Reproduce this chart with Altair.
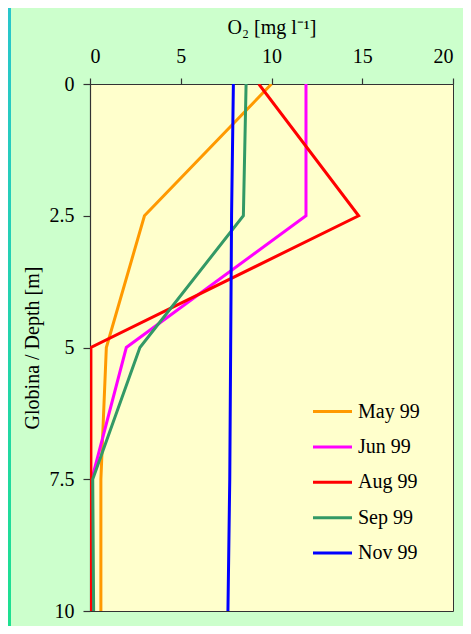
import altair as alt
import pandas as pd

depths = [0, 2.5, 5, 7.5, 10]
months = ["May 99", "Jun 99", "Aug 99", "Sep 99", "Nov 99"]
may = [10.0, 3.0, 0.9, 0.6, 0.6]
jun = [11.9, 11.9, 2.0, 0.1, 0.1]
aug = [9.3, 14.8, 0.05, 0.05, 0.05]
sep = [8.6, 8.45, 2.75, 0.15, 0.2]
nov = [7.9, 7.8, 7.75, 7.7, 7.6]
colors = ["#FF9900", "#FF00FF", "#FF0000", "#339966", "#0000FF"]
x_ticks = [0, 5, 10, 15, 20]
y_ticks = [0, 2.5, 5, 7.5, 10]

rows = []
for si, (m, vals) in enumerate(zip(months, [may, jun, aug, sep, nov])):
    for d, v in zip(depths, vals):
        rows.append({"month": m, "depth": d, "o2": v, "series": si})
df = pd.DataFrame(rows)

FONT = "Liberation Serif"

lines = alt.Chart(df).mark_line(strokeWidth=3, clip=True).encode(
    x=alt.X("o2:Q",
            scale=alt.Scale(domain=[0, 20], nice=False, zero=False),
            axis=alt.Axis(orient="top", values=x_ticks, title="O₂ [mg l⁻¹]",
                          grid=False, tickSize=6, labelPadding=12,
                          titlePadding=9)),
    y=alt.Y("depth:Q",
            scale=alt.Scale(domain=[0, 10], reverse=True, nice=False, zero=False),
            axis=alt.Axis(values=y_ticks, title="Globina / Depth [m]",
                          grid=False, tickSize=7, labelPadding=9,
                          titlePadding=7, labelExpr="'' + datum.value")),
    color=alt.Color("month:N",
                    scale=alt.Scale(domain=months, range=colors),
                    legend=alt.Legend(title=None, orient="none",
                                      legendX=228, legendY=313,
                                      symbolType="M-1.5,0H1.5",
                                      symbolSize=676,
                                      symbolStrokeWidth=3,
                                      labelFont=FONT, labelFontSize=20,
                                      labelColor="#000000",
                                      labelOffset=11, rowPadding=10.4,
                                      padding=0)),
    order=alt.Order("depth:Q"),
    detail="series:N",
)

strip = alt.Chart(pd.DataFrame({"a": [0]})).mark_rect(
    clip=False,
    color=alt.LinearGradient(
        gradient="linear",
        stops=[alt.GradientStop(color="#29C6CC", offset=0),
               alt.GradientStop(color="#1EE090", offset=1)],
        x1=0, x2=0, y1=0, y2=1),
).encode(
    x=alt.value(-82), x2=alt.value(-79),
    y=alt.value(-76), y2=alt.value(542),
)

chart = alt.layer(strip, lines).properties(
    width=363, height=527,
    padding={"left": 82, "top": 76, "right": 10, "bottom": 15},
    autosize=alt.AutoSizeParams(type="none"),
    background="#CCFFCC",
).configure_view(
    fill="#FFFFCC", stroke="#333333", strokeWidth=1,
).configure_axis(
    labelFont=FONT, labelFontSize=20, labelColor="#000000",
    titleFont=FONT, titleFontSize=20, titleFontWeight="normal",
    titleColor="#000000", domainColor="#333333", tickColor="#333333",
    domainWidth=1.2, tickWidth=1.2,
)

chart.save("out.html", embed_options={"renderer": "svg", "actions": False})
